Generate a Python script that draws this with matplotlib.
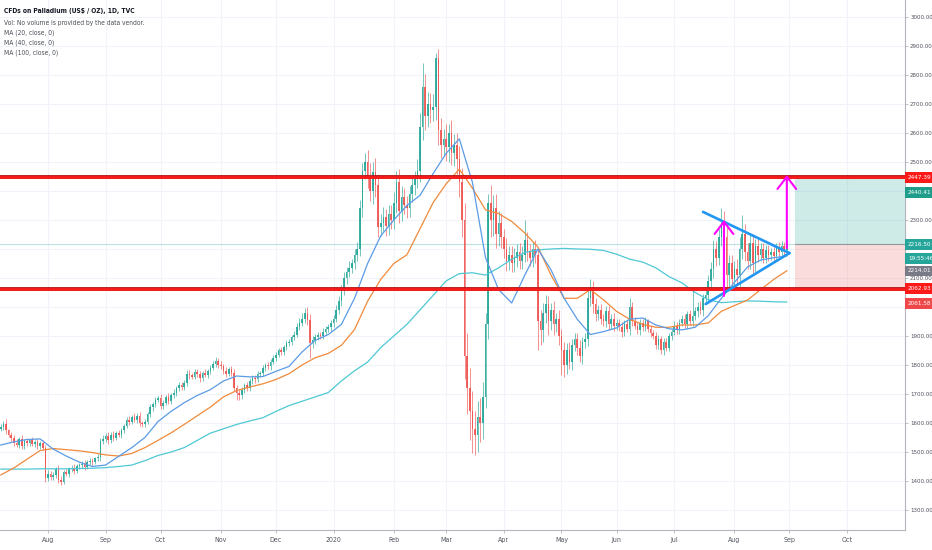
import numpy as np
import pandas as pd
import matplotlib
matplotlib.use("Agg")
import matplotlib.pyplot as plt
import matplotlib.transforms as mtransforms
from matplotlib import font_manager as fm

# ---------------- data ----------------
first_date = "2019-07-08"
first_open = 1580
closes = [
    1585, 1598, 1575, 1560, 1548,  1530, 1525, 1545, 1520, 1538,
    1530, 1540, 1528, 1535, 1522,  1530, 1515, 1410, 1425, 1415,
    1420, 1440, 1405, 1398, 1430,  1425, 1440, 1446, 1435, 1450,
    1455, 1460, 1448, 1465, 1470,  1465, 1478, 1482, 1538, 1545,
    1555, 1540, 1560, 1548, 1565,  1560, 1575, 1590, 1610, 1605,
    1620, 1612, 1625, 1600, 1595,  1605, 1630, 1655, 1665, 1680,
    1685, 1660, 1670, 1690, 1675,  1695, 1705, 1720, 1730, 1725,
    1738, 1770, 1765, 1760, 1775,  1768, 1755, 1772, 1765, 1778,
    1790, 1805, 1815, 1800, 1795,  1780, 1770, 1785, 1772, 1720,
    1705, 1695, 1715, 1730, 1720,  1745, 1755, 1750, 1768, 1772,
    1790, 1800, 1795, 1810, 1825,  1835, 1850, 1845, 1862, 1875,
    1880, 1895, 1905, 1930, 1945,  1960, 1980, 1955, 1875, 1885,
    1895, 1905, 1900, 1915, 1925,  1930, 1945, 1960, 1990, 2020,
    2060, 2100, 2120, 2135, 2150,  2180, 2200, 2340, 2470, 2500,
    2450, 2400, 2465, 2420, 2275,  2290, 2310, 2280, 2320, 2300,
    2360, 2430, 2330, 2380, 2350,  2340, 2390, 2420, 2440, 2470,
    2620, 2760, 2660, 2700, 2680,  2690, 2860, 2610, 2560, 2580,
    2550, 2600, 2530, 2560, 2510,  2430, 2300, 1830, 1720, 1640,
    1580, 1560, 1620, 1600, 1690,  1940, 2360, 2300, 2340, 2250,
    2290, 2240, 2200, 2160, 2180,  2150, 2170, 2190, 2160, 2180,
    2230, 2190, 2170, 2200, 2180,  1950, 1920, 1980, 2010, 1950,
    1990, 1940, 1960, 1900, 1850,  1800, 1850, 1810, 1870, 1890,
    1860, 1830, 1880, 1890, 2030,  2070, 2010, 1975, 1990, 1960,
    1950, 1985, 1940, 1960, 1935,  1945, 1930, 1915, 1940, 1925,
    2000, 1950, 1935, 1920, 1945,  1930, 1950, 1925, 1910, 1900,
    1870, 1890, 1850, 1880, 1860,  1900, 1915, 1935, 1920, 1945,
    1960, 1940, 1975, 1950, 1970,  1985, 2000, 1990, 2030, 2040,
    2090, 2130, 2200, 2170, 2240,  2290, 2240, 2110, 2150, 2095,
    2130, 2110, 2200, 2250, 2190,  2160, 2220, 2150, 2210, 2180,
    2200, 2170, 2195, 2180, 2190,  2175, 2205, 2190, 2210, 2195,
    2216.5,
]
upper_wick = [
    12, 8, 15, 6, 10,  9, 14, 7, 12, 8,  10, 6, 12, 8, 9,  7, 12, 10, 14, 9,
    10, 8, 15, 12, 9,  11, 7, 9, 13, 8,  6, 10, 12, 7, 9,  8, 6, 10, 9, 12,
    10, 14, 8, 12, 7,  12, 9, 8, 10, 14,  9, 13, 10, 12, 8,  10, 8, 12, 9, 11,
    8, 15, 10, 7, 12,  9, 11, 8, 10, 12,  10, 14, 12, 9, 10,  12, 10, 8, 14, 9,
    11, 9, 12, 10, 13,  10, 12, 9, 11, 14,  12, 10, 9, 8, 13,  9, 11, 10, 12, 8,
    10, 8, 12, 9, 11,  9, 10, 12, 8, 11,  10, 9, 12, 14, 16,  18, 15, 20, 22, 14,
    12, 10, 9, 11, 10,  12, 10, 14, 16, 18,  15, 20, 18, 22, 16,  20, 25, 30, 28, 31,
    40, 45, 35, 50, 40,  30, 35, 28, 32, 30,  35, 40, 45, 38, 30,  32, 28, 35, 30, 40,
    50, 81, 45, 40, 38,  45, 16, 30, 40, 35,  50, 30, 45, 35, 40,  45, 50, 60, 80, 70,
    70, 60, 55, 65, 50,  40, 30, 60, 45, 50,  40, 35, 30, 38, 32,  30, 35, 28, 32, 30,
    70, 30, 28, 25, 30,  20, 40, 35, 30, 28,  25, 30, 20, 28, 25,  30, 25, 28, 20, 22,
    20, 25, 18, 20, 30,  25, 20, 22, 18, 20,  15, 18, 20, 15, 18,  15, 12, 18, 14, 16,
    30, 18, 15, 12, 14,  12, 15, 10, 14, 12,  15, 12, 10, 14, 12,  12, 10, 15, 12, 14,
    12, 15, 10, 14, 100,  15, 18, 20, 15, 18,  20, 25, 30, 28, 30,  51, 40, 35, 30, 28,
    30, 35, 40, 67, 35,  30, 28, 32, 25, 28,  20, 22, 18, 20, 15,  18, 15, 20, 18, 15,
    10,
]
lower_wick = [
    8, 10, 12, 9, 11,  10, 7, 12, 9, 8,  9, 11, 8, 10, 12,  10, 8, 12, 9, 10,
    11, 9, 12, 12, 8,  9, 10, 8, 11, 7,  8, 9, 10, 7, 9,  10, 8, 9, 12, 10,
    11, 12, 9, 10, 8,  9, 12, 10, 8, 11,  10, 9, 12, 10, 9,  8, 10, 9, 12, 10,
    9, 12, 11, 8, 10,  10, 8, 12, 9, 10,  11, 9, 12, 10, 8,  9, 12, 10, 8, 11,
    10, 8, 11, 12, 9,  10, 12, 9, 11, 8,  25, 15, 12, 10, 9,  10, 9, 12, 8, 10,
    9, 11, 10, 12, 8,  10, 9, 11, 10, 12,  9, 12, 10, 8, 11,  12, 14, 16, 50, 18,
    12, 10, 11, 9, 12,  10, 12, 14, 12, 15,  15, 18, 20, 16, 18,  20, 22, 25, 28, 30,
    40, 35, 45, 40, 35,  30, 28, 35, 32, 30,  30, 35, 40, 35, 30,  32, 30, 28, 35, 30,
    40, 45, 50, 40, 45,  40, 45, 50, 45, 40,  45, 50, 40, 45, 50,  50, 60, 80, 90, 100,
    83, 70, 60, 65, 55,  40, 50, 60, 55, 45,  40, 35, 30, 35, 32,  28, 30, 32, 28, 30,
    25, 30, 28, 32, 30,  98, 50, 40, 35, 45,  30, 35, 25, 30, 85,  40, 30, 25, 28, 22,
    25, 20, 28, 22, 25,  25, 30, 22, 20, 18,  15, 18, 20, 15, 18,  15, 12, 18, 14, 12,
    20, 15, 12, 14, 15,  12, 14, 12, 15, 12,  15, 14, 12, 15, 12,  12, 15, 10, 12, 14,
    12, 14, 15, 12, 14,  15, 18, 15, 20, 18,  20, 25, 30, 28, 25,  30, 35, 40, 45, 35,
    35, 30, 40, 35, 30,  28, 30, 32, 28, 25,  22, 20, 18, 20, 18,  15, 18, 15, 20, 15,
    12,
]
# moving averages, one value per week (every 5th session)
ma20 = [1524, 1535, 1543, 1545, 1510, 1486, 1465, 1450, 1455, 1485,
        1515, 1550, 1605, 1640, 1670, 1695, 1715, 1745, 1762, 1759,
        1760, 1778, 1795, 1845, 1885, 1905, 1940, 2030, 2150, 2245,
        2300, 2350, 2385, 2460, 2530, 2580, 2430, 2170, 2060, 2014,
        2110, 2200, 2128, 2030, 1958, 1905, 1915, 1928, 1958, 1962,
        1938, 1925, 1921, 1930, 1970, 2030, 2085, 2138, 2162, 2170,
        2176]
ma40 = [1421, 1445, 1475, 1505, 1512, 1508, 1504, 1498, 1490, 1486,
        1495, 1515, 1540, 1566, 1595, 1625, 1655, 1690, 1712, 1724,
        1735, 1750, 1770, 1800, 1825, 1840, 1868, 1922, 2020, 2095,
        2150, 2180, 2270, 2360, 2425, 2475, 2410, 2335, 2322, 2295,
        2255, 2207, 2110, 2030, 2030, 2060, 2025, 1985, 1958, 1940,
        1930, 1930, 1938, 1938, 1945, 1985, 2005, 2024, 2060, 2095,
        2125]
ma100 = [1441, 1441, 1441, 1442, 1442, 1442, 1443, 1444, 1446, 1450,
         1455, 1470, 1488, 1500, 1515, 1540, 1565, 1580, 1595, 1607,
         1618, 1640, 1660, 1675, 1690, 1705, 1745, 1780, 1810, 1860,
         1900, 1940, 1990, 2040, 2090, 2115, 2118, 2110, 2135, 2165,
         2188, 2197, 2200, 2202, 2200, 2199, 2195, 2182, 2165, 2155,
         2135, 2105, 2083, 2050, 2025, 2015, 2018, 2021, 2020, 2018,
         2017]

month_labels = ["Aug", "Sep", "Oct", "Nov", "Dec", "2020", "Feb", "Mar",
                "Apr", "May", "Jun", "Jul", "Aug", "Sep", "Oct"]
price_ticks = [1300, 1400, 1500, 1600, 1700, 1800, 1900, 2000, 2100, 2200,
               2300, 2400, 2500, 2600, 2700, 2800, 2900, 3000]
hidden_ticks = [2200, 2400]          # fully covered by price labels in the picture
resistance = 2447.39
support = 2062.93
entry, target, stop = 2216.50, 2440.41, 2061.58
timer_text = "19:55:46"
bid_price = 2214.01
tri_upper = [("2020-07-16", 2328), ("2020-09-01", 2186)]
tri_lower = [("2020-07-17", 2010), ("2020-09-01", 2186)]
arrow1 = ("2020-07-28", 2038, 2300)
arrow2 = ("2020-08-31", 2203, 2455)
box_start = "2020-09-03"

title = "CFDs on Palladium (US$ / OZ), 1D, TVC"
legend_lines = ["Vol: No volume is provided by the data vendor.",
                "MA (20, close, 0)", "MA (40, close, 0)", "MA (100, close, 0)"]

# ---------------- fonts: prefer a condensed face ----------------
def pick_font(bold=False):
    cands = []
    for f in fm.fontManager.ttflist:
        st = str(f.stretch).lower()
        narrowish = ("narrow" in f.name.lower() or "condensed" in f.name.lower()
                     or st in ("condensed", "semi-condensed", "extra-condensed")
                     or (st.isdigit() and int(st) < 500))
        if not narrowish or f.style != "normal":
            continue
        w = f.weight if isinstance(f.weight, int) else (700 if "bold" in str(f.weight) else 400)
        if bold != (w >= 600):
            continue
        cands.append(f)
    pref = ["Liberation Sans Narrow", "DejaVu Sans", "Open Sans", "Roboto", "Noto Sans"]
    cands.sort(key=lambda f: pref.index(f.name) if f.name in pref else 99)
    if cands:
        return fm.FontProperties(fname=cands[0].fname), True
    return fm.FontProperties(family="Liberation Sans",
                             weight="bold" if bold else "normal"), False

fp_reg, has_narrow = pick_font(False)
fp_bold, has_narrow_b = pick_font(True)
sz = 1.0 if has_narrow else 0.88

def fprop(fp, size):
    p = fp.copy()
    p.set_size(size)
    return p

# ---------------- drawing ----------------
UP, DOWN = "#26a69a", "#ef5350"
dates = pd.bdate_range(first_date, "2020-11-30")
n = len(closes)
idx = np.arange(n)
closes_a = np.array(closes, float)
opens = np.r_[first_open, closes_a[:-1]]
highs = np.maximum(opens, closes_a) + np.array(upper_wick)
lows = np.minimum(opens, closes_a) - np.array(lower_wick)

def xi(d):
    return int(np.busday_count(np.datetime64(first_date), np.datetime64(d)))

fig = plt.figure(figsize=(9.32, 5.5), dpi=100)
ax = fig.add_axes([0, 20 / 550, 905 / 932, 530 / 550])
ax.set_xlim(-0.3, 345.1)
ax.set_ylim(1231, 3058.6)

# grid / ticks
month_pos = []
for y, m in [(2019, 8), (2019, 9), (2019, 10), (2019, 11), (2019, 12), (2020, 1),
             (2020, 2), (2020, 3), (2020, 4), (2020, 5), (2020, 6), (2020, 7),
             (2020, 8), (2020, 9), (2020, 10)]:
    sel = np.where((dates.year == y) & (dates.month == m))[0]
    month_pos.append(sel[0])
ax.set_xticks(month_pos)
ax.set_xticklabels(month_labels, color="#50535e", fontproperties=fprop(fp_reg, 5.0 * sz))
ax.set_yticks(price_ticks)
ax.set_yticklabels(["" if v in hidden_ticks else f"{v:.2f}" for v in price_ticks],
                   color="#50535e", fontproperties=fprop(fp_reg, 4.4 * sz))
ax.yaxis.tick_right()
ax.tick_params(axis="y", length=2.5, width=0.6, color="#b2b5be", pad=1.2)
ax.tick_params(axis="x", length=2.5, width=0.6, color="#b2b5be", pad=2.5)
ax.grid(True, color="#f0f3fa", lw=0.8)
ax.set_axisbelow(True)
for s in ["left", "top"]:
    ax.spines[s].set_visible(False)
for s in ["right", "bottom"]:
    ax.spines[s].set_color("#b2b5be")
    ax.spines[s].set_linewidth(0.8)
# partial July label at the far left
ax.text(xi("2019-07-01"), -0.0155, "Jul '19",
        transform=mtransforms.blended_transform_factory(ax.transData, ax.transAxes),
        ha="center", va="top", color="#50535e", fontproperties=fprop(fp_reg, 5.0 * sz),
        clip_on=False)

# position box
bx = xi(box_start)
ax.fill_between([bx, 345.1], entry, target, color="#26a69a", alpha=0.22, lw=0, zorder=1)
ax.fill_between([bx, 345.1], stop, entry, color="#ef5350", alpha=0.2, lw=0, zorder=1)
ax.plot([bx, 345.1], [entry, entry], color="#9598a1", lw=0.8, zorder=1.5)
# current price line
ax.axhline(entry, color="#26a69a", alpha=0.3, lw=0.8, zorder=1.2)

# candles
col = np.where(closes_a >= opens, UP, DOWN)
ax.vlines(idx, lows, highs, colors=col, lw=0.6, alpha=0.75, zorder=2)
body_h = np.maximum(np.abs(closes_a - opens), 2)
ax.bar(idx, body_h, bottom=np.minimum(opens, closes_a), width=0.62, color=col,
       alpha=0.9, lw=0, zorder=2.2)

# moving averages
ma_x = idx[::5]
ax.plot(ma_x, ma100, color="#4fc8d4", lw=0.9, zorder=3)
ax.plot(ma_x, ma40, color="#f08a3c", lw=0.9, zorder=3)
ax.plot(ma_x, ma20, color="#5b9be6", lw=0.9, zorder=3)

# horizontal levels
for lv in (resistance, support):
    ax.axhline(lv, color="#b71c1c", lw=2.8, zorder=4)
    ax.axhline(lv, color="#ff1a1a", lw=1.8, zorder=4.1)

# triangle
for seg in (tri_upper, tri_lower):
    ax.plot([xi(seg[0][0]), xi(seg[1][0])], [seg[0][1], seg[1][1]],
            color="#2196f3", lw=1.9, solid_capstyle="round", zorder=5)

# arrows
for d, y0, y1 in (arrow1, arrow2):
    x = xi(d)
    ax.annotate("", xy=(x, y1), xytext=(x, y0),
                arrowprops=dict(arrowstyle="->,head_length=0.55,head_width=0.42",
                                color="#ff00ff", lw=1.5, mutation_scale=16,
                                shrinkA=0, shrinkB=0), zorder=6)

# price labels on the right scale
trans = mtransforms.blended_transform_factory(ax.transAxes, ax.transData)
labels = [
    (resistance, f"{resistance:.2f}", "#ff1a1a", 0),
    (target, f"{target:.2f}", "#1e9e8a", 13),
    (entry, f"{entry:.2f}", "#26a69a", 0),
    (entry, timer_text, "#26a69a", 14),
    (bid_price, f"{bid_price:.2f}", "#787b86", 26),
    (support, f"{support:.2f}", "#ff1a1a", 0),
    (stop, f"{stop:.2f}", "#f04848", 14),
]
for val, txt, c, off in labels:
    ax.annotate(txt, xy=(1.0, val), xycoords=trans,
                xytext=(2.2, -off * 0.72), textcoords="offset points",
                ha="left", va="center", color="white",
                fontproperties=fprop(fp_reg, 4.6 * sz),
                bbox=dict(boxstyle="square,pad=0.45", fc=c, ec="none"),
                annotation_clip=False, zorder=10)

# header texts
fig.text(4 / 932, 1 - 11 / 550, title, color="#131722",
         fontproperties=fprop(fp_bold, 4.8 * sz), va="center")
for k, t in enumerate(legend_lines):
    fig.text(4 / 932, 1 - (23 + 10 * k) / 550, t, color="#4a4d57",
             fontproperties=fprop(fp_reg, 4.8 * sz), va="center")

fig.savefig("out.png", dpi=100)
